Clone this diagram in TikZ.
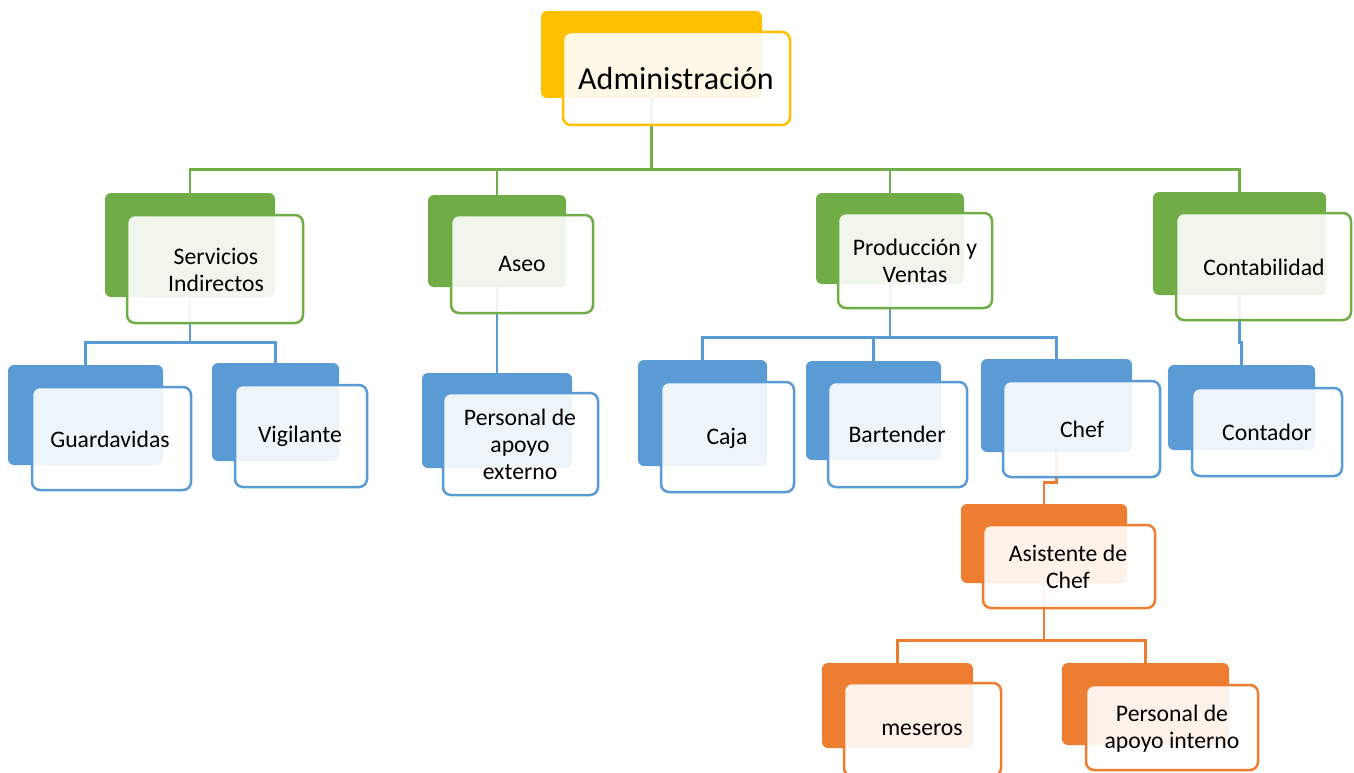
\documentclass[tikz,border=0pt]{standalone}
\usepackage{fontspec}
\setmainfont{Carlito}
\usetikzlibrary{fit,backgrounds}
\definecolor{cgold}{HTML}{FFC000}
\definecolor{cgreen}{HTML}{70AD47}
\definecolor{cblue}{HTML}{5B9BD5}
\definecolor{corange}{HTML}{ED7D31}
\tikzset{
  backbox/.style={rectangle, rounded corners=6pt, fill=#1, inner sep=0pt, draw=none},
  frontbox/.style={rectangle, rounded corners=8pt, draw=#1, line width=2.5pt, fill=white, fill opacity=0.9, inner sep=0pt},
  lbl/.style={font=\fontsize{23.7}{27}\selectfont, align=center, inner sep=0pt, text=black},
  biglbl/.style={font=\fontsize{32}{38}\selectfont, align=center, inner sep=0pt, text=black},
  conn/.style={draw=#1, line width=2.6pt},
}
\begin{document}
\begin{tikzpicture}[x=1pt,y=-1pt]
\useasboundingbox (0,0) rectangle (1354,773);

% ---------- blocks: back shape, front shape ----------
\node[backbox=cgold, fit={(541,11) (762,98)}] (admin) {};
\node[frontbox=cgold, fit={(563,32) (790,125)}] (admin-f) {};

\node[backbox=cgreen, fit={(105,193) (275,297)}] (serv) {};
\node[frontbox=cgreen, fit={(127,215) (303,323)}] (serv-f) {};

\node[backbox=cgreen, fit={(428,195) (566,287)}] (aseo) {};
\node[frontbox=cgreen, fit={(451,215) (593,313)}] (aseo-f) {};

\node[backbox=cgreen, fit={(816,193) (964,284)}] (prod) {};
\node[frontbox=cgreen, fit={(838,213) (992,308)}] (prod-f) {};

\node[backbox=cgreen, fit={(1153,192) (1326,295)}] (contab) {};
\node[frontbox=cgreen, fit={(1176,213) (1351,320)}] (contab-f) {};

\node[backbox=cblue, fit={(8,365) (163,465)}] (guard) {};
\node[frontbox=cblue, fit={(32,387) (191,490)}] (guard-f) {};

\node[backbox=cblue, fit={(212,363) (339,461)}] (vig) {};
\node[frontbox=cblue, fit={(235,385) (367,487)}] (vig-f) {};

\node[backbox=cblue, fit={(422,373) (572,468)}] (pae) {};
\node[frontbox=cblue, fit={(443,393) (598,495)}] (pae-f) {};

\node[backbox=cblue, fit={(638,360) (767,466)}] (caja) {};
\node[frontbox=cblue, fit={(661,382) (794,492)}] (caja-f) {};

\node[backbox=cblue, fit={(806,361) (941,460)}] (bart) {};
\node[frontbox=cblue, fit={(828,382) (967,487)}] (bart-f) {};

\node[backbox=cblue, fit={(981,359) (1132,452)}] (chef) {};
\node[frontbox=cblue, fit={(1003,381) (1160,477)}] (chef-f) {};

\node[backbox=cblue, fit={(1168,365) (1315,450)}] (conta) {};
\node[frontbox=cblue, fit={(1192,388) (1342,476)}] (conta-f) {};

\node[backbox=corange, fit={(961,504) (1127,583)}] (asis) {};
\node[frontbox=corange, fit={(983,525) (1155,608)}] (asis-f) {};

\node[backbox=corange, fit={(822,663) (973,748)}] (mes) {};
\node[frontbox=corange, fit={(844,683) (1001,776)}] (mes-f) {};

\node[backbox=corange, fit={(1062,663) (1229,745)}] (api) {};
\node[frontbox=corange, fit={(1086,685) (1258,770)}] (api-f) {};

% ---------- labels ----------
\node[biglbl] (admin-t) at (676,79) {Administración};
\node[lbl] (serv-t) at (216,270) {Servicios\\Indirectos};
\node[lbl] (aseo-t) at (522,264) {Aseo};
\node[lbl] (prod-t) at (915,261) {Producción y\\Ventas};
\node[lbl] (contab-t) at (1264,267) {Contabilidad};
\node[lbl] (guard-t) at (110,439) {Guardavidas};
\node[lbl] (vig-t) at (300,436) {Vigilante};
\node[lbl] (pae-t) at (520,444) {Personal de\\apoyo\\externo};
\node[lbl] (caja-t) at (727,438) {Caja};
\node[lbl] (bart-t) at (897,434) {Bartender};
\node[lbl] (chef-t) at (1082,429) {Chef};
\node[lbl] (conta-t) at (1267,432) {Contador};
\node[lbl] (asis-t) at (1068,567) {Asistente de\\Chef};
\node[lbl] (mes-t) at (922,730) {meseros};
\node[lbl] (api-t) at (1172,729) {Personal de\\apoyo interno};

% ---------- connectors ----------
\begin{pgfonlayer}{background}
\foreach \c in {serv,aseo,prod,contab}
  \draw[conn=cgreen] (admin.south) -- ++(0,71) -| (\c.north);
\foreach \c in {guard,vig}
  \draw[conn=cblue] (serv.south) -- ++(0,45) -| (\c.north);
\draw[conn=cblue] (aseo.south) -- (pae.north);
\foreach \c in {caja,bart,chef}
  \draw[conn=cblue] (prod.south) -- ++(0,53) -| (\c.north);
\draw[conn=cblue] (contab.south) -- ++(0,47) -| (conta.north);
\draw[conn=corange] (chef.south) -- ++(0,30) -| (asis.north);
\foreach \c in {mes,api}
  \draw[conn=corange] (asis.south) -- ++(0,57) -| (\c.north);
\end{pgfonlayer}
\end{tikzpicture}
\end{document}
